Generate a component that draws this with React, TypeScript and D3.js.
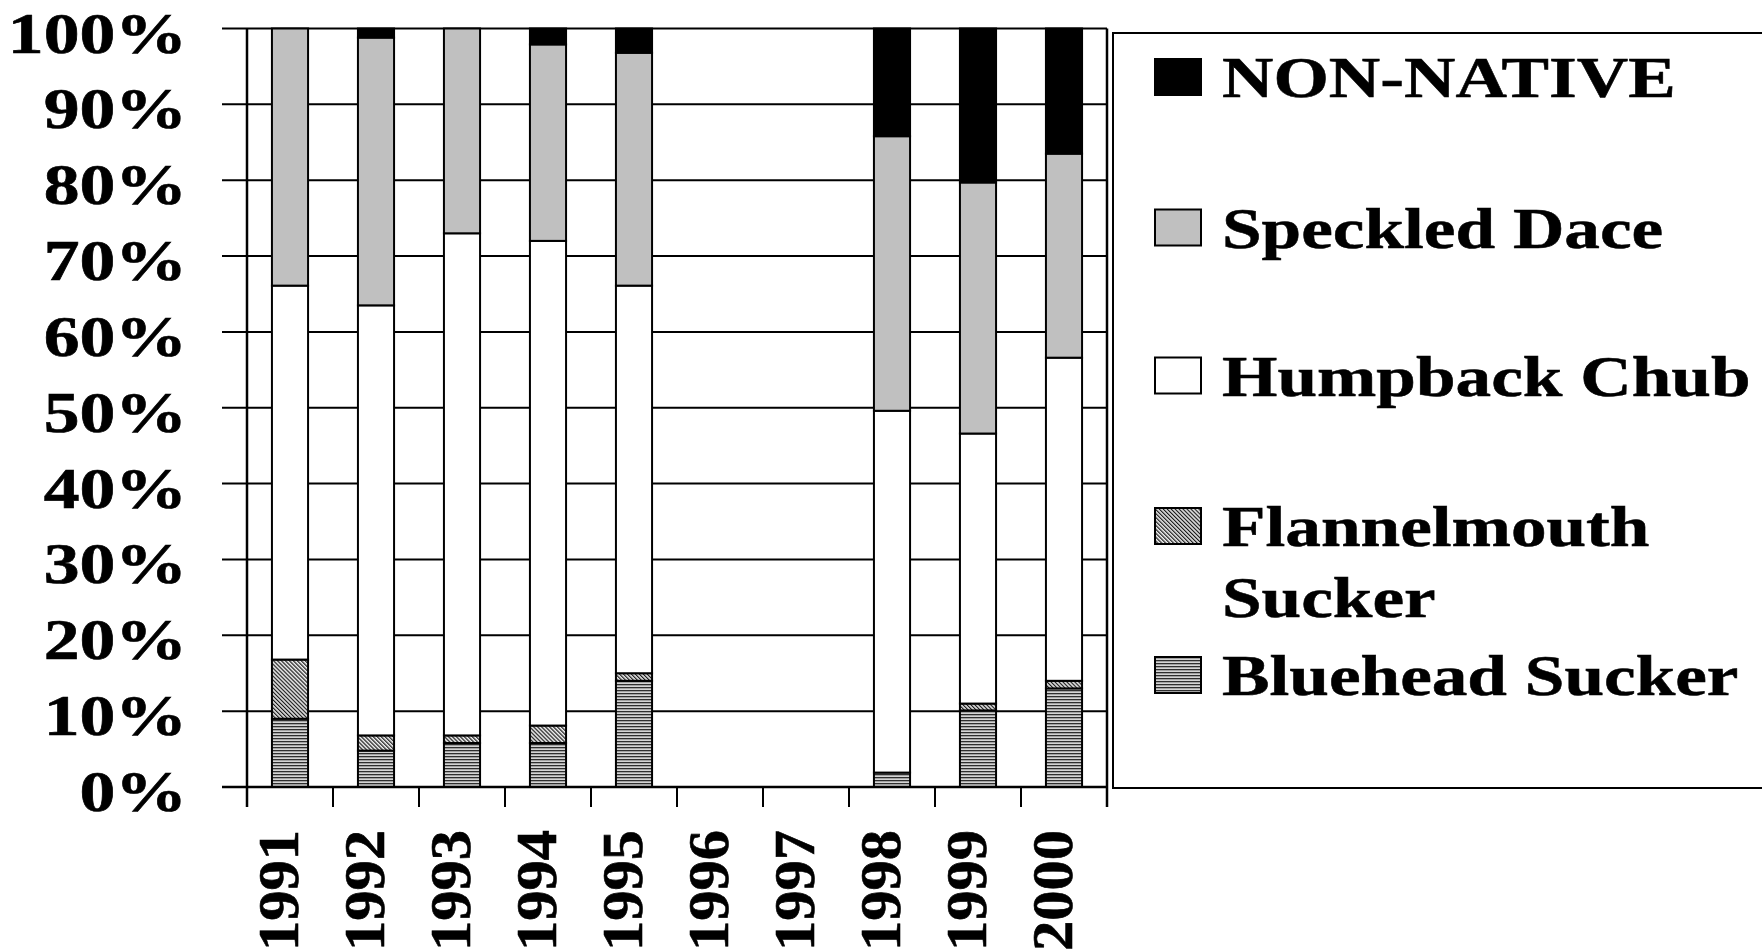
import React from 'react';
import * as d3 from 'd3';

// ---- data (percent of catch) ----
const years = ['1991', '1992', '1993', '1994', '1995', '1996', '1997', '1998', '1999', '2000'];
const blueheadSucker = [9.0, 4.8, 5.8, 5.8, 14.0, 0, 0, 1.9, 10.1, 13.0];
const flannelmouthSucker = [7.8, 2.0, 1.0, 2.3, 1.0, 0, 0, 0, 0.9, 1.0];
const humpbackChub = [49.3, 56.7, 66.2, 63.9, 51.1, 0, 0, 47.7, 35.6, 42.6];
const speckledDace = [33.9, 35.3, 27.0, 25.9, 30.7, 0, 0, 36.2, 33.1, 26.9];
const nonNative = [0, 1.2, 0, 2.1, 3.2, 0, 0, 14.2, 20.3, 16.5];
const yTicks = [0, 10, 20, 30, 40, 50, 60, 70, 80, 90, 100];
const seriesKeys = ['bluehead', 'flannelmouth', 'humpback', 'speckled', 'nonnative'];
const legendEntries = [
  { key: 'nonnative', lines: ['NON-NATIVE'] },
  { key: 'speckled', lines: ['Speckled Dace'] },
  { key: 'humpback', lines: ['Humpback Chub'] },
  { key: 'flannelmouth', lines: ['Flannelmouth', 'Sucker'] },
  { key: 'bluehead', lines: ['Bluehead Sucker'] },
];

const W = 1762;
const H = 952;
const FONT = "'Liberation Serif', 'Times New Roman', Times, serif";

const fills: Record<string, string> = {
  bluehead: 'url(#patBluehead)',
  flannelmouth: 'url(#patFlannel)',
  humpback: '#ffffff',
  speckled: '#c0c0c0',
  nonnative: '#000000',
};

const textStyle: React.CSSProperties = {
  fontFamily: FONT,
  fontWeight: 700,
};

export default function App() {
  const left = 247;
  const right = 1107;
  const top = 28.5;
  const bottom = 787;

  const x = d3.scaleBand<string>().domain(years).range([left, right]).paddingInner(0.58).paddingOuter(0.29);
  const y = d3.scaleLinear().domain([0, 100]).range([bottom, top]);
  const step = x.step();

  const table = years.map((yr, i) => ({
    year: yr,
    bluehead: blueheadSucker[i],
    flannelmouth: flannelmouthSucker[i],
    humpback: humpbackChub[i],
    speckled: speckledDace[i],
    nonnative: nonNative[i],
  }));
  const stacked = d3.stack<any>().keys(seriesKeys)(table);

  const boundaries = d3.range(years.length + 1).map((i) => left + i * step);

  // legend layout
  const legendBaselines = [97, 247.5, 395.5, 546, 695];
  const lineGap = 71;

  return (
    <svg width={W} height={H} style={{ position: 'absolute', left: 0, top: 0, background: '#fff' }}>
      <defs>
        <pattern id="patBluehead" width="4" height="3" patternUnits="userSpaceOnUse">
          <rect width="4" height="3" fill="#d4d4d4" />
          <rect width="4" height="1.3" y="0" fill="#2e2e2e" />
        </pattern>
        <pattern id="patFlannel" width="2.8" height="2.8" patternUnits="userSpaceOnUse" patternTransform="rotate(-45)">
          <rect width="2.8" height="2.8" fill="#eeeeee" />
          <rect width="1.2" height="2.8" x="0" fill="#1a1a1a" />
        </pattern>
      </defs>
      <rect x={0} y={0} width={W} height={H} fill="#fff" />

      {/* gridlines + y ticks */}
      {yTicks.map((t) => (
        <line key={'g' + t} x1={222} x2={right} y1={y(t)} y2={y(t)} stroke="#000" strokeWidth={2} />
      ))}

      {/* bars */}
      {stacked.map((layer) => (
        <g key={layer.key}>
          {layer.map((d, i) => {
            const h = d[1] - d[0];
            if (h <= 0) return null;
            return (
              <rect
                key={i}
                x={x(years[i])}
                width={x.bandwidth()}
                y={y(d[1])}
                height={y(d[0]) - y(d[1])}
                fill={fills[layer.key]}
                stroke="#000"
                strokeWidth={2}
              />
            );
          })}
        </g>
      ))}

      {/* axes frame */}
      <line x1={left} x2={left} y1={top} y2={bottom + 20} stroke="#000" strokeWidth={2.5} />
      <line x1={right} x2={right} y1={top} y2={bottom + 20} stroke="#000" strokeWidth={2.5} />
      <line x1={222} x2={right} y1={bottom} y2={bottom} stroke="#000" strokeWidth={2.5} />
      {boundaries.map((bx, i) => (
        <line key={'xt' + i} x1={bx} x2={bx} y1={bottom} y2={bottom + 20} stroke="#000" strokeWidth={2} />
      ))}

      {/* y tick labels */}
      {yTicks.map((t) => (
        <g key={'yl' + t} transform={`translate(187, ${y(t) + 24}) scale(1.28, 1)`}>
          <text textAnchor="end" fontSize={56} style={textStyle} fill="#000" stroke="#000" strokeWidth={0.6}>
            {t + '%'}
          </text>
        </g>
      ))}

      {/* x labels */}
      {years.map((yr) => (
        <g
          key={'xl' + yr}
          transform={`translate(${(x(yr) as number) + x.bandwidth() / 2 + 8}, 830) rotate(-90) scale(1.08, 1)`}
        >
          <text textAnchor="end" fontSize={56} style={textStyle} fill="#000" stroke="#000" strokeWidth={0.6}>
            {yr}
          </text>
        </g>
      ))}

      {/* legend */}
      <rect x={1113} y={33} width={700} height={755} fill="#fff" stroke="#000" strokeWidth={2} />
      {legendEntries.map((e, i) => {
        const bl = legendBaselines[i];
        return (
          <g key={'lg' + e.key}>
            <rect x={1155} y={bl - 38} width={46} height={36} fill={fills[e.key]} stroke="#000" strokeWidth={2} />
            {e.lines.map((ln, j) => (
              <g key={j} transform={`translate(1222, ${bl + j * lineGap}) scale(1.25, 1)`}>
                <text fontSize={57} style={textStyle} fill="#000" stroke="#000" strokeWidth={0.5}>
                  {ln}
                </text>
              </g>
            ))}
          </g>
        );
      })}
    </svg>
  );
}
